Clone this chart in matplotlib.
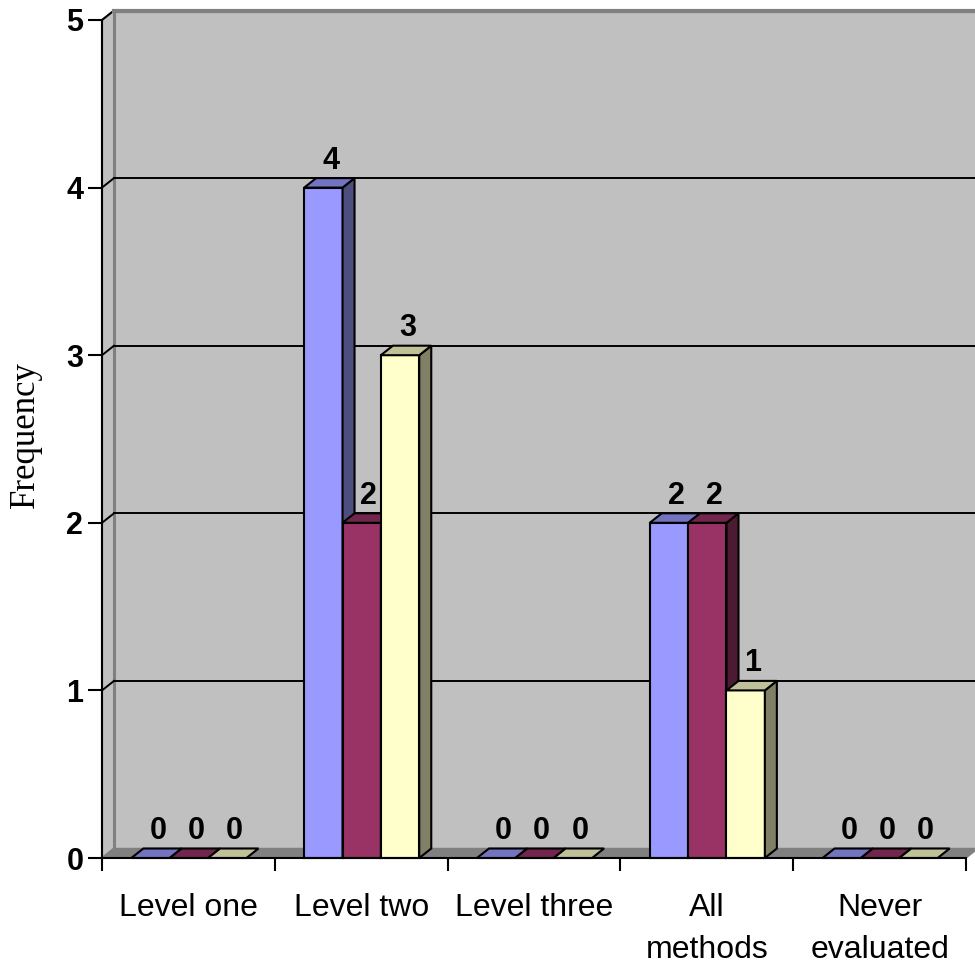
import matplotlib
matplotlib.use("Agg")
import matplotlib.pyplot as plt
from matplotlib.patches import Polygon

categories = ["Level one", "Level two", "Level three", "All\nmethods", "Never\nevaluated"]
series_a = [0, 4, 0, 2, 0]
series_b = [0, 2, 0, 2, 0]
series_c = [0, 3, 0, 1, 0]
y_ticks = [0, 1, 2, 3, 4, 5]

# front / top / side shades for each series
faces = [
    ("#9999FF", "#7373C0", "#4D4D80"),
    ("#993366", "#73264D", "#4D1A33"),
    ("#FFFFCC", "#C0C099", "#808066"),
]

W, H, DPI = 975, 967, 100
fig = plt.figure(figsize=(W / DPI, H / DPI), dpi=DPI)
fig.patch.set_facecolor("white")

# plot box in pixels: x 102..966, y 858..20
x0, x1, y0, y1 = 102, 966, 858, 20
ax = fig.add_axes([x0 / W, (H - y0) / H, (x1 - x0) / W, (y0 - y1) / H])
ax.set_xlim(0, 5)
ax.set_ylim(0, 5)
ax.set_facecolor("none")

# depth offset of the 3d box, in data units
px_x = 5 / (x1 - x0)
px_y = 5 / (y0 - y1)
dx, dy = 12 * px_x, 9.5 * px_y

def poly(pts, fc, ec, lw, z):
    p = Polygon(pts, closed=True, facecolor=fc, edgecolor=ec, linewidth=lw,
                zorder=z, clip_on=False, joinstyle="miter")
    ax.add_patch(p)

# walls and floor
poly([(dx, dy), (5 + dx, dy), (5 + dx, 5 + dy), (dx, 5 + dy)], "#C0C0C0", "#808080", 2.2, 0.5)
poly([(0, 0), (dx, dy), (dx, 5 + dy), (0, 5)], "#C0C0C0", "#808080", 1.5, 0.6)
poly([(0, 0), (5, 0), (5 + dx, dy), (dx, dy)], "#808080", "#808080", 1.0, 0.7)

# gridlines on back and side walls
for t in y_ticks[1:]:
    ax.plot([dx, 5 + dx], [t + dy, t + dy], color="black", lw=1.4, zorder=0.8, clip_on=False)
    ax.plot([0, dx], [t, t + dy], color="black", lw=1.4, zorder=0.8, clip_on=False)
ax.plot([dx, 5 + dx], [5 + dy, 5 + dy], color="#808080", lw=3, zorder=0.85, clip_on=False)

# 3d columns
bar_w = 0.222
start = 0.17
z = 2
for i in range(len(categories)):
    for s, vals in enumerate([series_a, series_b, series_c]):
        v = vals[i]
        fc, tc, sc = faces[s]
        left = i + start + s * bar_w
        right = left + bar_w
        if v > 0:
            poly([(left, 0), (right, 0), (right, v), (left, v)], fc, "black", 1.5, z)
            poly([(right, 0), (right + dx, dy), (right + dx, v + dy), (right, v)], sc, "black", 1.5, z)
        poly([(left, v), (right, v), (right + dx, v + dy), (left + dx, v + dy)], tc, "black", 1.5, z)
        ax.text(left + bar_w / 2 + dx * 0.6, v + 19 * px_y, str(v),
                ha="center", va="baseline", fontsize=22, fontweight="bold",
                family="Liberation Sans", zorder=5)
        z += 0.1

# axes frame and ticks
for side in ["top", "right"]:
    ax.spines[side].set_visible(False)
for side in ["left", "bottom"]:
    ax.spines[side].set_linewidth(1.5)
    ax.spines[side].set_zorder(4)

ax.set_yticks(y_ticks)
ax.set_yticklabels([str(t) for t in y_ticks], fontsize=22, fontweight="bold",
                   family="Liberation Sans")
ax.tick_params(axis="y", length=10, width=1.5, pad=3.5)

ax.set_xticks(range(len(categories) + 1))
ax.set_xticklabels([])
ax.set_xticks([i + 0.5 for i in range(len(categories))], minor=True)
ax.set_xticklabels(categories, minor=True, fontsize=23, family="Liberation Sans",
                   linespacing=1.55)
ax.tick_params(axis="x", which="major", length=9, width=1.5, direction="out")
ax.tick_params(axis="x", which="minor", length=0, pad=25)

ax.set_ylabel("Frequency", fontsize=25, family="Liberation Serif")
ax.yaxis.set_label_coords(-0.0694, 0.505)

fig.savefig("out.png", dpi=DPI, facecolor="white")
